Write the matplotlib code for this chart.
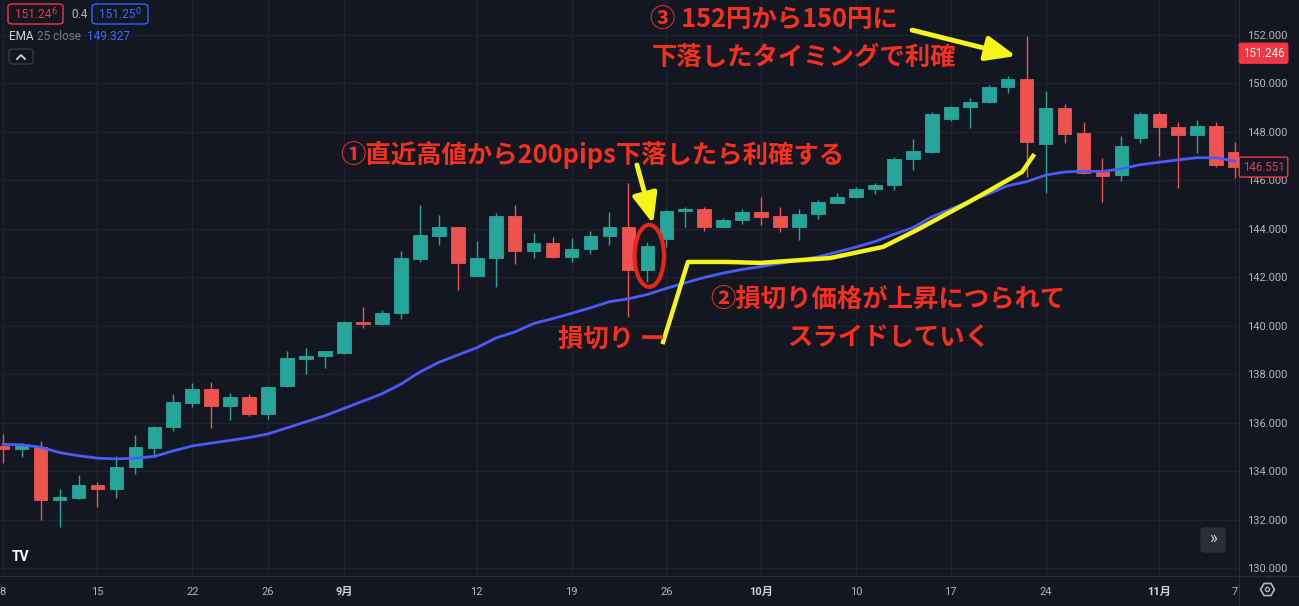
import matplotlib
matplotlib.use("Agg")
import matplotlib.pyplot as plt
import matplotlib.transforms as mtransforms
from matplotlib.patches import Ellipse, FancyBboxPatch
from matplotlib.lines import Line2D

# daily USD/JPY candles, Aug 8 - Nov 7
opens = [135.05, 134.93, 135.02, 132.82, 132.90, 133.46, 133.28, 134.20, 134.98, 135.85,
         136.81, 137.40, 136.69, 137.06, 136.37, 137.54, 138.64, 138.75, 138.90, 140.16,
         140.08, 140.52, 142.75, 143.71, 144.07, 142.06, 142.79, 144.52, 143.09, 143.44,
         142.83, 143.18, 143.70, 144.07, 142.31, 143.59, 144.73, 144.84, 144.10, 144.37,
         144.69, 144.52, 144.07, 144.62, 145.08, 145.31, 145.64, 145.81, 146.89, 147.18,
         148.52, 149.04, 149.23, 149.84, 150.17, 147.49, 148.98, 147.95, 146.34, 146.23,
         147.74, 148.73, 148.22, 147.86, 148.26, 147.16]
highs = [135.55, 135.16, 135.27, 133.28, 133.87, 133.57, 134.65, 135.49, 135.89, 137.21,
         137.65, 137.69, 137.24, 137.21, 137.51, 138.98, 139.08, 138.98, 140.22, 140.80,
         140.66, 143.09, 144.99, 144.58, 144.10, 143.52, 144.65, 144.99, 143.82, 143.66,
         143.64, 143.92, 144.70, 145.91, 143.48, 144.80, 144.92, 144.90, 144.44, 144.81,
         145.31, 144.92, 144.84, 145.18, 145.47, 145.72, 145.88, 146.98, 147.70, 148.84,
         149.08, 149.39, 149.94, 150.31, 151.97, 149.70, 149.14, 148.43, 146.94, 147.85,
         148.84, 148.84, 148.43, 148.50, 148.40, 147.60]
lows = [134.34, 134.61, 132.00, 131.72, 132.87, 132.55, 132.92, 133.88, 134.65, 135.68,
        136.67, 135.79, 136.14, 136.30, 136.18, 137.50, 138.02, 138.26, 138.83, 139.90,
        140.05, 140.28, 142.65, 143.34, 141.48, 142.06, 141.60, 142.56, 142.79, 142.80,
        142.65, 142.96, 143.34, 140.36, 141.83, 143.27, 144.07, 143.93, 144.07, 144.20,
        144.18, 143.89, 143.55, 144.40, 145.06, 145.28, 145.44, 145.61, 146.43, 147.12,
        148.47, 148.15, 149.18, 149.60, 146.16, 145.50, 147.53, 146.26, 145.13, 145.98,
        147.56, 147.01, 145.68, 147.12, 146.57, 146.09]
closes = [134.92, 135.04, 132.82, 132.94, 133.46, 133.28, 134.20, 135.00, 135.85, 136.85,
          137.40, 136.69, 137.06, 136.37, 137.47, 138.67, 138.76, 138.96, 140.18, 140.10,
          140.55, 142.79, 143.74, 144.07, 142.59, 142.82, 144.52, 143.09, 143.44, 142.86,
          143.19, 143.70, 144.07, 142.31, 143.29, 144.73, 144.84, 144.08, 144.38, 144.69,
          144.51, 144.07, 144.63, 145.11, 145.33, 145.65, 145.81, 146.90, 147.20, 148.74,
          149.04, 149.24, 149.87, 150.17, 147.60, 148.98, 147.90, 146.32, 146.20, 147.43,
          148.73, 148.21, 147.86, 148.26, 146.64, 146.55]
ema25 = [135.12, 135.10, 135.00, 134.78, 134.65, 134.55, 134.52, 134.55, 134.62, 134.85,
         135.05, 135.17, 135.28, 135.40, 135.55, 135.80, 136.05, 136.30, 136.60, 136.90,
         137.20, 137.60, 138.10, 138.50, 138.80, 139.10, 139.50, 139.75, 140.10, 140.30,
         140.52, 140.75, 141.00, 141.12, 141.30, 141.55, 141.78, 142.00, 142.18, 142.33,
         142.45, 142.58, 142.72, 142.85, 143.05, 143.25, 143.48, 143.78, 144.05, 144.50,
         144.82, 145.15, 145.45, 145.78, 145.95, 146.22, 146.35, 146.38, 146.37, 146.48,
         146.65, 146.75, 146.85, 146.94, 146.93, 146.80]

tick_idx = [0, 5, 10, 14, 18, 25, 30, 35, 40, 45, 50, 55, 61, 65]
tick_lbl = ['8', '15', '22', '26', '9月', '12', '19', '26', '10月', '10', '17', '24', '11月', '7']
price_ticks = [130, 132, 134, 136, 138, 140, 142, 144, 146, 148, 150, 152]

# hand-drawn yellow stop line (index, price)
stop_x = [34.83, 36.14, 38.2, 39.94, 43.63, 46.43, 48.22, 50.86, 52.07, 53.76, 54.34]
stop_y = [139.34, 142.64, 142.64, 142.60, 142.80, 143.26, 143.96, 145.07, 145.60, 146.35, 147.01]

BG = '#131722'
GRID = '#1f2330'
UP = '#26a69a'
DOWN = '#ef5350'
RED_TXT = '#f5301e'
YEL = '#f5f51c'
W, H = 1299, 606

plt.rcParams['font.family'] = ['Roboto', 'Noto Sans CJK JP', 'DejaVu Sans']

fig = plt.figure(figsize=(W / 100, H / 100), dpi=100, facecolor=BG)
ax = fig.add_axes([0, 30 / H, 1239 / W, 576 / H])
ax.set_facecolor(BG)

n = len(opens)
xs = list(range(n))
for i in xs:
    o, h, l, c = opens[i], highs[i], lows[i], closes[i]
    col = UP if c >= o else DOWN
    ax.vlines(i, l, h, color=col, lw=1.0, zorder=3)
    body = max(abs(c - o), 0.05)
    ax.bar(i, body, 0.72, bottom=min(o, c), color=col, edgecolor=col, lw=0.6, zorder=4)

ax.plot(xs, ema25, color='#4a5cf7', lw=2.0, zorder=5, solid_capstyle='round')

ax.set_xlim(-0.14, 65.2)
ax.set_ylim(129.69, 153.44)
ax.set_xticks(tick_idx)
ax.set_xticklabels(tick_lbl)
ax.set_yticks(price_ticks)
ax.set_yticklabels([f"{p:.3f}" for p in price_ticks])
ax.yaxis.tick_right()
ax.tick_params(axis='both', length=0, colors='#b2b5be', labelsize=8)
ax.tick_params(axis='x', pad=8)
ax.tick_params(axis='y', pad=6)
for lbl in ax.get_xticklabels():
    if '月' in lbl.get_text():
        lbl.set_color('#d1d4dc')
        lbl.set_fontweight('bold')
ax.grid(True, color=GRID, lw=1.0)
ax.set_axisbelow(True)
for s in ['top', 'left']:
    ax.spines[s].set_visible(False)
ax.spines['right'].set_color('#2a2e39')
ax.spines['bottom'].set_color('#2a2e39')

# stop-loss line, ellipse and arrows
ax.plot(stop_x, stop_y, color=YEL, lw=3.2, zorder=7, solid_joinstyle='round')
ax.add_patch(Ellipse((34.1, 142.89), 1.55, 2.56, fill=False, ec='#e8261a', lw=3, zorder=8))
arrow = dict(arrowstyle='-|>,head_length=1.8,head_width=0.75', color=YEL, lw=3.5,
             shrinkA=0, shrinkB=0)
ax.annotate('', xy=(34.3, 144.21), xytext=(33.45, 146.64), arrowprops=arrow, zorder=9)
ax.annotate('', xy=(53.44, 151.13), xytext=(47.96, 152.2), arrowprops=arrow, zorder=9)

jp = ['Noto Sans CJK JP', 'DejaVu Sans']
kw = dict(color=RED_TXT, fontsize=18.3, fontweight='bold', family=jp, zorder=10)
ax.text(34.14, 152.62, '③ 152円から150円に', ha='left', va='center', **kw)
ax.text(34.24, 151.09, '下落したタイミングで利確', ha='left', va='center', **kw)
ax.text(17.79, 147.05, '①直近高値から200pips下落したら利確する', ha='left', va='center', **kw)
ax.text(46.7, 141.07, '②損切り価格が上昇につられて', ha='center', va='center', **kw)
ax.text(46.7, 139.5, 'スライドしていく', ha='center', va='center', **kw)
ax.text(29.29, 139.42, '損切り ー', ha='left', va='center', **kw)

# price tags on the right scale
blend = mtransforms.blended_transform_factory(ax.transAxes, ax.transData)
ax.text(1.003, 151.246, '151.246', transform=blend, ha='left', va='center', fontsize=8.3,
        color='white', clip_on=False,
        bbox=dict(boxstyle='round,pad=0.3,rounding_size=0.15', fc='#f23645', ec='#f23645'))
ax.text(1.003, 146.551, '146.551', transform=blend, ha='left', va='center', fontsize=8.3,
        color='#f23645', clip_on=False,
        bbox=dict(boxstyle='round,pad=0.3,rounding_size=0.15', fc=BG, ec='#f23645'))


def px(x, y):
    return x / W, 1 - y / H


def box(x0, y0, x1, y1, ec, fc='none'):
    fig.add_artist(FancyBboxPatch(px(x0, y1), (x1 - x0) / W, (y1 - y0) / H,
                                  boxstyle='round,pad=0,rounding_size=0.004', ec=ec, fc=fc,
                                  lw=1.0, transform=fig.transFigure))


# header legend
box(8, 4, 63, 24, '#f23645')
fig.text(*px(15, 14), '151.24', color='#f23645', fontsize=8.5, va='center')
fig.text(*px(51, 12), '6', color='#f23645', fontsize=6.5, va='center')
fig.text(*px(71, 14), '0.4', color='#b2b5be', fontsize=8.5, va='center')
box(92, 4, 148, 24, '#2962ff')
fig.text(*px(99, 14), '151.25', color='#3d6bff', fontsize=8.5, va='center')
fig.text(*px(135, 12), '0', color='#3d6bff', fontsize=6.5, va='center')
fig.text(*px(9, 37), 'EMA', color='#d1d4dc', fontsize=8.5, va='center')
fig.text(*px(37, 37), '25 close', color='#787b86', fontsize=8.5, va='center')
fig.text(*px(87, 37), '149.327', color='#3d6bff', fontsize=8.5, va='center')
box(9, 49, 33, 64, '#363a45')
fig.add_artist(Line2D([17 / W, 21 / W, 25 / W], [1 - 59 / H, 1 - 55 / H, 1 - 59 / H],
                      color='#d1d4dc', lw=1.3, transform=fig.transFigure))

# logo, scroll button, settings icon
fig.text(*px(12, 557), 'TV', color='white', fontsize=10, fontweight='bold', va='center')
box(1201, 528, 1225, 552, '#2a2e39', '#2a2e39')
fig.text(*px(1213, 539), '»', color='#d1d4dc', fontsize=12, ha='center', va='center')
fig.add_artist(Line2D([1267 / W], [1 - 589 / H], marker='H', markersize=10, mfc='none',
                      mec='#b2b5be', mew=1.2, transform=fig.transFigure))
fig.add_artist(Line2D([1267 / W], [1 - 589 / H], marker='o', markersize=3, mfc='none',
                      mec='#b2b5be', mew=1.0, transform=fig.transFigure))
fig.add_artist(Line2D([1239 / W, 1239 / W], [0, 30 / H], color='#2a2e39', lw=1,
                      transform=fig.transFigure))
fig.add_artist(Line2D([1239 / W, 1], [30 / H, 30 / H], color='#2a2e39', lw=1,
                      transform=fig.transFigure))

fig.savefig('out.png', dpi=100, facecolor=BG)
